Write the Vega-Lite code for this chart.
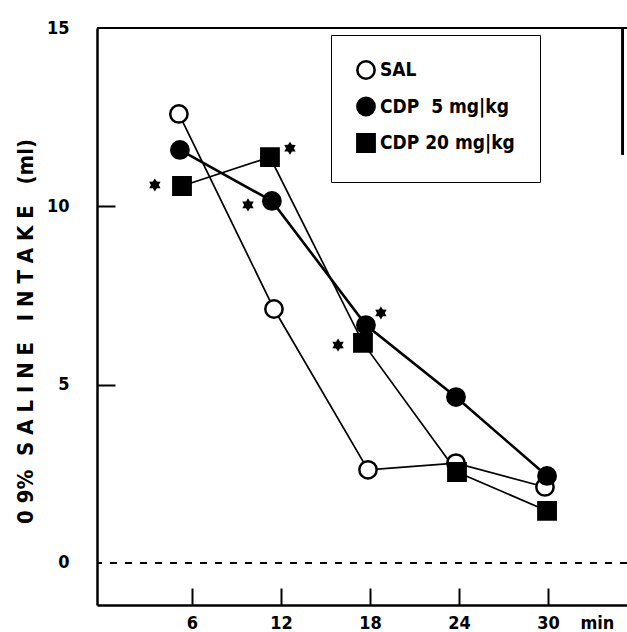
{
  "$schema": "https://vega.github.io/schema/vega-lite/v6.json",
  "width": 530,
  "height": 577,
  "autosize": {"type": "none"},
  "padding": {"left": 97, "top": 28, "right": 0, "bottom": 27},
  "background": "white",
  "config": {
    "view": {"stroke": null},
    "font": "DejaVu Sans Condensed, Liberation Sans, sans-serif"
  },
  "data": {"name": "main"},
  "datasets": {
    "main": [
      {"group": "SAL", "t": 5.12, "v": 12.59},
      {"group": "SAL", "t": 11.53, "v": 7.12},
      {"group": "SAL", "t": 17.87, "v": 2.61},
      {"group": "SAL", "t": 23.8, "v": 2.8},
      {"group": "SAL", "t": 29.8, "v": 2.13},
      {"group": "CDP\u00a0\u00a05\u00a0mg|kg", "t": 5.19, "v": 11.58},
      {"group": "CDP\u00a0\u00a05\u00a0mg|kg", "t": 11.39, "v": 10.15},
      {"group": "CDP\u00a0\u00a05\u00a0mg|kg", "t": 17.73, "v": 6.67},
      {"group": "CDP\u00a0\u00a05\u00a0mg|kg", "t": 23.8, "v": 4.65},
      {"group": "CDP\u00a0\u00a05\u00a0mg|kg", "t": 29.94, "v": 2.44},
      {"group": "CDP\u00a020\u00a0mg|kg", "t": 5.33, "v": 10.57},
      {"group": "CDP\u00a020\u00a0mg|kg", "t": 11.26, "v": 11.38},
      {"group": "CDP\u00a020\u00a0mg|kg", "t": 17.53, "v": 6.17},
      {"group": "CDP\u00a020\u00a0mg|kg", "t": 23.87, "v": 2.55},
      {"group": "CDP\u00a020\u00a0mg|kg", "t": 29.94, "v": 1.46}
    ],
    "stars": [
      {"t": 3.5, "v": 10.6},
      {"t": 12.61, "v": 11.63},
      {"t": 9.78, "v": 10.04},
      {"t": 18.74, "v": 7.01},
      {"t": 15.85, "v": 6.11}
    ]
  },
  "encoding": {
    "x": {
      "field": "t", "type": "quantitative",
      "scale": {"domain": [-0.4, 35.33], "nice": false, "zero": false},
      "axis": {
        "values": [6, 12, 18, 24, 30, 33.3],
        "labelExpr": "datum.value > 31 ? 'min' : datum.label",
        "title": null, "grid": false,
        "domainColor": "black", "domainWidth": 2.5,
        "tickColor": "black", "tickWidth": 2, "tickSize": -17,
        "tickOpacity": {"condition": {"test": "datum.value > 31", "value": 0}, "value": 1},
        "labelFontSize": 18, "labelFontWeight": "bold", "labelColor": "black",
        "labelPadding": 26, "labelOverlap": false, "labelFlush": false
      }
    },
    "y": {
      "field": "v", "type": "quantitative",
      "scale": {"domain": [-1.18, 15], "nice": false, "zero": false},
      "axis": {
        "values": [0, 5, 10, 15],
        "title": "0 9%\u00a0\u00a0S A L I N E\u00a0\u00a0\u00a0I N T A K E\u00a0\u00a0\u00a0(ml)",
        "titleFontSize": 22, "titleFontWeight": "bold", "titleColor": "black",
        "titleAngle": -90, "titleX": -72, "titleY": 303, "titleAlign": "center", "titleBaseline": "middle",
        "grid": false,
        "domainColor": "black", "domainWidth": 2.5,
        "tickColor": "black", "tickWidth": 2, "tickSize": -18,
        "tickOpacity": {"condition": {"test": "datum.value == 0 || datum.value == 15", "value": 0}, "value": 1},
        "labelFontSize": 18, "labelFontWeight": "bold", "labelColor": "black",
        "labelPadding": 46, "labelOverlap": false, "labelFlush": false
      }
    }
  },
  "layer": [
    {
      "mark": {"type": "rule", "color": "black", "strokeWidth": 2, "strokeDash": [7, 8]},
      "encoding": {"x": null, "y": {"datum": 0, "type": "quantitative"}}
    },
    {
      "mark": {"type": "rule", "color": "black", "strokeWidth": 2},
      "encoding": {"x": null, "y": {"datum": 15, "type": "quantitative"}}
    },
    {
      "mark": {"type": "rule", "color": "black", "strokeWidth": 2},
      "encoding": {
        "x": {"datum": 35.05, "type": "quantitative"},
        "y": {"datum": 15, "type": "quantitative"},
        "y2": {"datum": 11.45}
      }
    },
    {
      "transform": [{"filter": "datum.group != 'CDP\u00a0\u00a05\u00a0mg|kg'"}],
      "mark": {"type": "line", "color": "black", "strokeWidth": 1.7},
      "encoding": {"detail": {"field": "group"}}
    },
    {
      "transform": [{"filter": "datum.group == 'CDP\u00a0\u00a05\u00a0mg|kg'"}],
      "mark": {"type": "line", "color": "black", "strokeWidth": 2.6},
      "encoding": {}
    },
    {
      "mark": {"type": "point", "filled": true, "stroke": "black", "strokeWidth": 2.5, "size": 300, "opacity": 1},
      "encoding": {
        "shape": {
          "field": "group", "type": "nominal",
          "scale": {"domain": ["SAL", "CDP\u00a0\u00a05\u00a0mg|kg", "CDP\u00a020\u00a0mg|kg"], "range": ["circle", "circle", "square"]},
          "legend": {
            "title": null, "orient": "none", "legendX": 234, "legendY": 7, "direction": "vertical",
            "padding": 25, "rowPadding": 8.5,
            "labelFontSize": 19, "labelFontWeight": "bold", "labelColor": "black", "labelLimit": 300,
            "symbolSize": 300, "symbolStrokeWidth": 2.5,
            "strokeColor": "black",
            "encode": {"symbols": {"stroke": {"value": "black"}}}
          }
        },
        "fill": {
          "field": "group", "type": "nominal",
          "scale": {"domain": ["SAL", "CDP\u00a0\u00a05\u00a0mg|kg", "CDP\u00a020\u00a0mg|kg"], "range": ["white", "black", "black"]},
          "legend": {
            "title": null, "orient": "none", "legendX": 234, "legendY": 7, "direction": "vertical",
            "padding": 25, "rowPadding": 8.5,
            "labelFontSize": 19, "labelFontWeight": "bold", "labelColor": "black", "labelLimit": 300,
            "symbolSize": 300, "symbolStrokeWidth": 2.5,
            "strokeColor": "black",
            "encode": {"symbols": {"stroke": {"value": "black"}}}
          }
        }
      }
    },
    {
      "data": {"name": "stars"},
      "mark": {"type": "point", "filled": true, "color": "black", "opacity": 1, "size": 170,
        "shape": "M0,-1L0.3,-0.52L0.87,-0.5L0.6,0L0.87,0.5L0.3,0.52L0,1L-0.3,0.52L-0.87,0.5L-0.6,0L-0.87,-0.5L-0.3,-0.52Z"}
    }
  ]
}
